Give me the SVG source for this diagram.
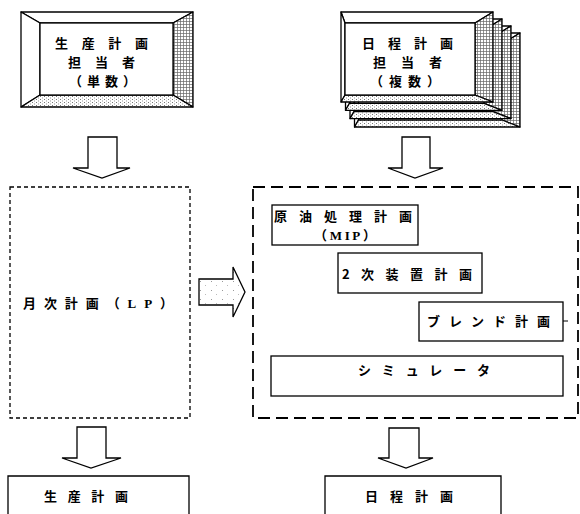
<svg xmlns="http://www.w3.org/2000/svg" width="580" height="514" viewBox="0 0 580 514">
<defs>
<pattern id="grid" width="3" height="3" patternUnits="userSpaceOnUse"><rect width="3" height="3" fill="#fff"/><path d="M0 0.5H3M0.5 0V3" stroke="#666" stroke-width="0.7"/></pattern>
<pattern id="dots" width="4" height="3" patternUnits="userSpaceOnUse"><rect width="4" height="3" fill="#fff"/><rect x="0" y="0" width="1" height="1" fill="#777"/><rect x="2" y="1.5" width="1" height="1" fill="#999"/></pattern>
<pattern id="sparse" width="11" height="9" patternUnits="userSpaceOnUse"><rect width="11" height="9" fill="#fff"/><rect x="2" y="2" width="1" height="1" fill="#999"/><rect x="7" y="6" width="1" height="1" fill="#bbb"/></pattern>
<style>
.b{stroke:#000;stroke-width:1.3;stroke-linejoin:round}
.w{fill:#fff}
.g{fill:url(#grid)}
.d{fill:url(#dots)}
.box{fill:#fff;stroke:#000;stroke-width:1.3}
.arr{fill:#fff;stroke:#000;stroke-width:1.3;stroke-linejoin:miter}
.t{font-family:"Noto Sans CJK JP","Noto Sans CJK SC",sans-serif;font-weight:bold;font-size:13px;fill:#000}
.s{font-size:13px}
.lat{font-family:"Liberation Serif",serif;font-weight:bold}
</style>
</defs>

<g id="person-single">
<polygon class="b w" points="21,12 193,12 173,23 40,23"/>
<polygon class="b w" points="21,12 40,23 40,95 21,107"/>
<polygon class="b g" points="193,12 193,107 173,95 173,23"/>
<polygon class="b d" points="21,107 40,95 173,95 193,107"/>
<rect class="box" x="40" y="23" width="133" height="72"/>
<text class="t" x="55" y="48" textLength="93" lengthAdjust="spacing">生産計画</text>
<text class="t" x="68" y="67" textLength="67" lengthAdjust="spacing">担当者</text>
<text class="t" x="69" y="86" textLength="67" lengthAdjust="spacing">（単数）</text>
</g>

<g id="person-multi">
<g>
<polygon class="b w" points="354.5,33 520,33 502,44 358.5,44"/>
<polygon class="b w" points="354.5,33 358.5,44 358.5,120 354.5,127"/>
<polygon class="b g" points="520,33 520,127 502,120 502,44"/>
<polygon class="b d" points="354.5,127 358.5,120 502,120 520,127"/>
</g>
<g>
<polygon class="b w" points="350,26 511,26 493,37 354,37"/>
<polygon class="b w" points="350,26 354,37 354,111.6 350,118.6"/>
<polygon class="b g" points="511,26 511,118.6 493,111.6 493,37"/>
<polygon class="b d" points="350,118.6 354,111.6 493,111.6 511,118.6"/>
</g>
<g>
<polygon class="b w" points="345.5,19 502,19 484,30 349.5,30"/>
<polygon class="b w" points="345.5,19 349.5,30 349.5,103.3 345.5,110.3"/>
<polygon class="b g" points="502,19 502,110.3 484,103.3 484,30"/>
<polygon class="b d" points="345.5,110.3 349.5,103.3 484,103.3 502,110.3"/>
</g>
<g>
<polygon class="b w" points="341,12 493,12 475,23 345,23"/>
<polygon class="b w" points="341,12 345,23 345,95 341,102"/>
<polygon class="b g" points="493,12 493,102 475,95 475,23"/>
<polygon class="b d" points="341,102 345,95 475,95 493,102"/>
<rect class="box" x="345" y="23" width="130" height="72"/>
</g>
<text class="t" x="362" y="48" textLength="91" lengthAdjust="spacing">日程計画</text>
<text class="t" x="373" y="67" textLength="69" lengthAdjust="spacing">担当者</text>
<text class="t" x="370" y="86" textLength="70" lengthAdjust="spacing">（複数）</text>
</g>

<g id="monthly">
<rect x="10" y="187" width="180" height="231" fill="none" stroke="#000" stroke-width="1.3" stroke-dasharray="4 3"/>
<text class="t s" x="23" y="308" textLength="150" lengthAdjust="spacing">月次計画（<tspan class="lat">LP</tspan>）</text>
</g>

<g id="daily-group">
<rect x="253" y="187" width="325" height="231" fill="none" stroke="#000" stroke-width="1.8" stroke-dasharray="12 6"/>
</g>

<g id="crude">
<rect class="box" x="272" y="205" width="146" height="40"/>
<text class="t s" x="274" y="221" textLength="138" lengthAdjust="spacing">原油処理計画</text>
<text class="t s" x="314" y="240" textLength="62" lengthAdjust="spacing">（<tspan class="lat">MIP</tspan>）</text>
</g>

<g id="secondary">
<rect class="box" x="338" y="253" width="144" height="40"/>
<text class="t s" x="342" y="279" textLength="130" lengthAdjust="spacing">2次装置計画</text>
</g>

<g id="blend">
<rect class="box" x="419" y="302" width="144" height="39"/>
<text class="t s" x="427" y="326" textLength="123" lengthAdjust="spacing">ブレンド計画</text>
<line x1="563" y1="321" x2="568" y2="321" stroke="#000" stroke-width="1"/>
</g>

<g id="simulator">
<rect class="box" x="271" y="356" width="292" height="40"/>
<text class="t s" x="358" y="375" textLength="132" lengthAdjust="spacing">シミュレータ</text>
</g>

<g id="prod-plan">
<path d="M8,514 V476 H189 V514" fill="#fff" stroke="#000" stroke-width="1.3"/>
<text class="t s" x="44" y="501" textLength="84" lengthAdjust="spacing">生産計画</text>
</g>

<g id="daily-plan">
<path d="M325,514 V476 H501 V514" fill="#fff" stroke="#000" stroke-width="1.3"/>
<text class="t s" x="365" y="501" textLength="88" lengthAdjust="spacing">日程計画</text>
</g>

<g id="connectors">
<polygon class="arr" points="88,137 117,137 117,168 130,168 102,178 73,168 88,168"/>
<polygon class="arr" points="402,137 430,137 430,168 443,168 415,178 388,168 402,168"/>
<polygon class="arr" points="199,279 233,279 233,267 245,292 233,317 233,305 199,305" style="fill:url(#sparse)"/>
<polygon class="arr" points="77,427 106,427 106,458 121,458 91,468 62,458 77,458"/>
<polygon class="arr" points="389,428 419,428 419,458 433,458 406,468 378,458 389,458"/>
</g>
</svg>
